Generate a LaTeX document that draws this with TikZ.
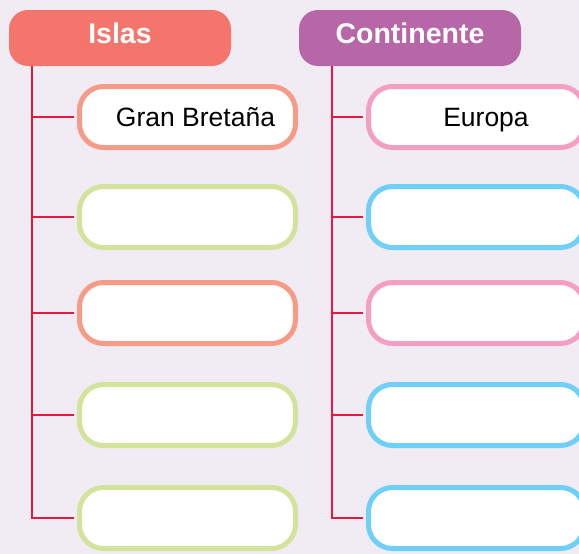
\documentclass[tikz,border=0pt]{standalone}
\usepackage{fontspec}
\setmainfont{Liberation Sans}
\usetikzlibrary{positioning}
\definecolor{bgLav}{HTML}{F1ECF4}
\definecolor{headIslas}{HTML}{F4756B}
\definecolor{headCont}{HTML}{B767A8}
\definecolor{boxSalmon}{HTML}{F69B88}
\definecolor{boxGreen}{HTML}{D4E39B}
\definecolor{boxPink}{HTML}{F49EC4}
\definecolor{boxBlue}{HTML}{6FCFF6}
\definecolor{lineRed}{HTML}{E8173F}

\begin{document}
\begin{tikzpicture}[x=1pt, y=-1pt,
    header/.style={fill=#1, text=white, rounded corners=19pt,
      minimum width=222pt, minimum height=56pt, inner sep=0pt,
      text depth=10pt, font=\bfseries\fontsize{28.5}{30}\selectfont},
    answer/.style={draw=#1, fill=white, line width=5pt, rounded corners=24pt,
      minimum width=216pt, minimum height=61pt, inner sep=0pt,
      text height=22pt, text depth=3pt,
      font=\fontsize{26.5}{28}\selectfont},
    branch/.style={draw=lineRed, line width=2pt, shorten >=3pt}]
        % Background and frame
        \path[use as bounding box, fill=bgLav] (0,0) rectangle (579,554);
        % Column headings
        \node[header=headIslas] (islas) at (120,38) {Islas};
        \node[header=headCont] (cont) at (410,38) {Continente};
        % Answer boxes (left: islands, right: continents)
        \foreach \idx/\ypos/\lcol/\rcol/\ltext/\rtext in {
            1/117/boxSalmon/boxPink/{\hspace*{16pt}Gran Bretaña}/{\hspace*{19pt}Europa},
            2/217/boxGreen/boxBlue/{}/{},
            3/313/boxSalmon/boxPink/{}/{},
            4/415/boxGreen/boxBlue/{}/{},
            5/518/boxGreen/boxBlue/{}/{}} {
          \node[answer=\lcol] (isla\idx) at (187.5,\ypos) {\ltext};
          \node[answer=\rcol] (conti\idx) at (476.5,\ypos) {\rtext};
        }
        % Trunks
        \coordinate (islasTrunk) at (32,66);
        \coordinate (contTrunk) at (332,66);
        \draw[branch] (islasTrunk) |- (isla5.west);
        \draw[branch] (contTrunk) |- (conti5.west);
        % Branches
        \foreach \idx in {1,...,4} {
          \draw[branch] (islasTrunk |- isla\idx.west) -- (isla\idx.west);
          \draw[branch] (contTrunk |- conti\idx.west) -- (conti\idx.west);
        }
      \end{tikzpicture}
\end{document}
